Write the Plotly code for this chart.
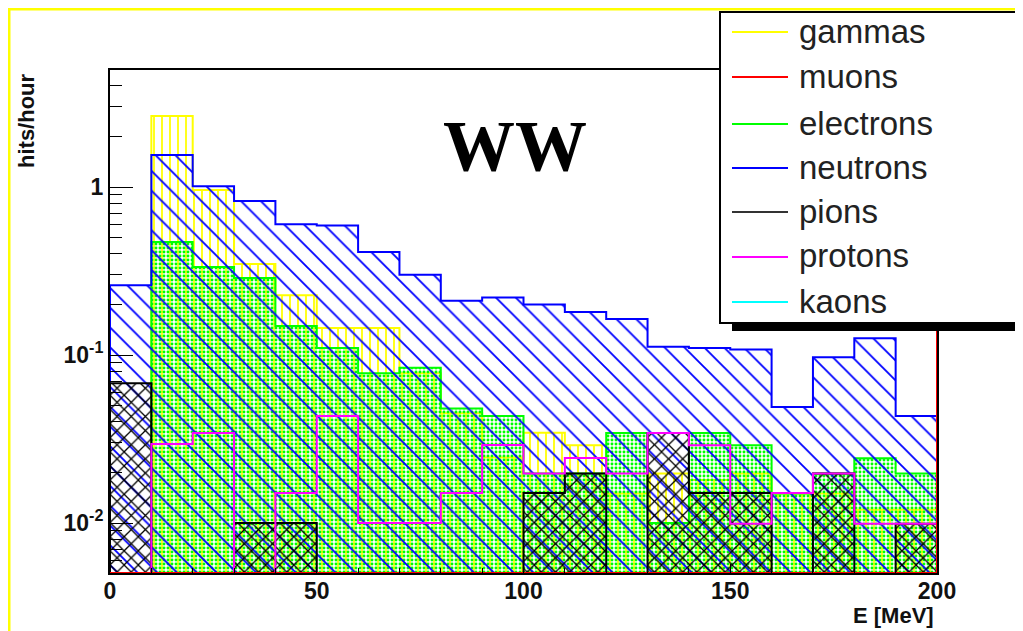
import numpy as np
import plotly.graph_objects as go

# ---------------- data ----------------
bin_edges = [0, 10, 20, 30, 40, 50, 60, 70, 80, 90, 100,
             110, 120, 130, 140, 150, 160, 170, 180, 190, 200]

gammas = [0.0, 2.65, 0.96, 0.348, 0.227, 0.145, 0.145, 0.078, 0.045, 0.0245,
          0.0345, 0.029, 0.015, 0.0197, 0.018, 0.0197, 0.015, 0.015, 0.012, 0.012]
muons = [0.0, 0.0, 0.0, 0.0, 0.0, 0.0, 0.0, 0.0, 0.0, 0.0,
         0.0, 0.0, 0.0, 0.0, 0.0, 0.0, 0.0, 0.0, 0.0, 0.0]
muons_overflow = 1.0          # bin just above 200 MeV (only its edge is visible)
electrons = [0.0, 0.471, 0.334, 0.287, 0.149, 0.110, 0.078, 0.084, 0.048, 0.0434,
             0.0197, 0.0197, 0.0343, 0.0100, 0.0343, 0.029, 0.015, 0.0197, 0.0243, 0.0197]
neutrons = [0.26, 1.55, 1.01, 0.826, 0.60, 0.59, 0.41, 0.30, 0.21, 0.22,
            0.20, 0.18, 0.164, 0.112, 0.110, 0.108, 0.049, 0.097, 0.126, 0.0434]
pions = [0.068, 0.0, 0.0, 0.0100, 0.0100, 0.0, 0.0, 0.0, 0.0, 0.0,
         0.0151, 0.0197, 0.0, 0.0343, 0.0151, 0.0151, 0.0, 0.0197, 0.0, 0.0099]
protons = [0.0, 0.0295, 0.0343, 0.0, 0.0151, 0.0434, 0.0100, 0.0100, 0.0151, 0.0291,
           0.0197, 0.0244, 0.0197, 0.0343, 0.029, 0.0099, 0.0151, 0.0197, 0.0099, 0.0099]
kaons = [0.0, 0.0, 0.0, 0.0, 0.0, 0.0, 0.0, 0.0, 0.0, 0.0,
         0.0, 0.0, 0.0, 0.0, 0.0, 0.0, 0.0, 0.0, 0.0, 0.0]

species = ["gammas", "muons", "electrons", "neutrons", "pions", "protons", "kaons"]
draw_order = ["gammas", "electrons", "neutrons", "pions", "protons", "kaons", "muons"]
colors = {"gammas": "#ffff00", "muons": "#ff0000", "electrons": "#00ff00",
          "neutrons": "#0000ff", "pions": "#000000", "protons": "#ff00ff",
          "kaons": "#00ffff"}

x_tick_vals = [0, 50, 100, 150, 200]
y_tick_vals = [0.01, 0.1, 1]
y_tick_text = ["10<sup>-2</sup>", "10<sup>-1</sup>", "1"]

# ---------------- layout geometry ----------------
OFF = 8                      # page body margin of the html page
W, H = 1023, 631             # overflowing part is simply cut by the window
ML, MT = 110 - OFF, 70 - OFF
MR = W - (937 - OFF)
MB = H - (573 - OFF)
PW, PH = W - ML - MR, H - MT - MB
Y_LOG_RANGE = [-2.2976, 0.6964]
Y_FLOOR = 10 ** Y_LOG_RANGE[0]


def px_x(px):
    """screen pixel -> paper x"""
    return (px - OFF - ML) / PW


def px_y(py):
    """screen pixel -> paper y"""
    return (H - MB - (py - OFF)) / PH


def step_path(edges, values):
    """Histogram outline (ROOT style) built from bin edges and contents."""
    e = np.asarray(edges, dtype=float)
    v = np.maximum(np.asarray(values, dtype=float), Y_FLOOR)
    xs = [e[0]]
    ys = [Y_FLOOR]
    for i in range(len(v)):
        xs += [e[i], e[i + 1]]
        ys += [v[i], v[i]]
    xs.append(e[-1])
    ys.append(Y_FLOOR)
    return xs, ys


patterns = {
    "gammas": dict(shape="|", size=8, solidity=0.22),
    "electrons": dict(shape=".", size=4, solidity=0.42),
    "neutrons": dict(shape="\\", size=14, solidity=0.13),
    "pions": dict(shape="x", size=10, solidity=0.24),
}

data_map = {"gammas": gammas, "muons": muons, "electrons": electrons,
            "neutrons": neutrons, "pions": pions, "protons": protons,
            "kaons": kaons}

fig = go.Figure()

for name in draw_order:
    vals = data_map[name]
    edges = bin_edges
    if name == "muons":
        vals = vals + [muons_overflow]
        edges = bin_edges + [bin_edges[-1] + (bin_edges[1] - bin_edges[0])]
    xs, ys = step_path(edges, vals)
    kw = {}
    if name in patterns:
        p = patterns[name]
        kw = dict(fill="toself", fillcolor="rgba(0,0,0,0)",
                  fillpattern=dict(shape=p["shape"], size=p["size"],
                                   solidity=p["solidity"],
                                   fgcolor=colors[name],
                                   bgcolor="rgba(0,0,0,0)",
                                   fillmode="replace"))
    fig.add_trace(go.Scatter(x=xs, y=ys, mode="lines", name=name,
                             line=dict(color=colors[name], width=2),
                             showlegend=False, hoverinfo="skip", **kw))

font_fam = "Liberation Sans, Arial, Helvetica, sans-serif"

fig.update_xaxes(range=[bin_edges[0], bin_edges[-1]], showgrid=False, zeroline=False,
                 showline=True, linecolor="black", linewidth=2, mirror=True,
                 ticks="inside", tickvals=x_tick_vals, ticklen=9, tickwidth=1,
                 tickcolor="black", ticklabelstandoff=-4,
                 minor=dict(tickvals=bin_edges, ticks="inside", ticklen=5,
                            tickcolor="black", tickwidth=1),
                 tickfont=dict(family=font_fam, size=23, color="#111", weight="bold"))
fig.update_yaxes(type="log", range=Y_LOG_RANGE, showgrid=False, zeroline=False,
                 showline=True, linecolor="black", linewidth=2, mirror=True,
                 ticks="inside", tickvals=y_tick_vals, ticktext=y_tick_text,
                 ticklen=23, tickwidth=1, tickcolor="black", ticklabelstandoff=0,
                 minor=dict(tickvals=[m * 10 ** k for k in (-3, -2, -1, 0)
                                      for m in range(2, 10)],
                            ticks="inside", ticklen=12, tickcolor="black", tickwidth=1),
                 tickfont=dict(family=font_fam, size=23, color="#111", weight="bold"))

shapes = []
annotations = []

# yellow slide frame
YEL = "#ffff00"
shapes.append(dict(type="line", xref="paper", yref="paper", x0=px_x(7), x1=px_x(1040),
                   y0=px_y(9), y1=px_y(9), line=dict(color=YEL, width=3), layer="above"))
shapes.append(dict(type="line", xref="paper", yref="paper", x0=px_x(9), x1=px_x(9),
                   y0=px_y(7), y1=px_y(640), line=dict(color=YEL, width=3), layer="above"))

# legend box with shadow
shapes.append(dict(type="rect", xref="paper", yref="paper", x0=px_x(732), x1=px_x(1045),
                   y0=px_y(331), y1=px_y(322), fillcolor="black", line=dict(width=0),
                   layer="above"))
shapes.append(dict(type="rect", xref="paper", yref="paper", x0=px_x(720), x1=px_x(1045),
                   y0=px_y(323), y1=px_y(12), fillcolor="white",
                   line=dict(color="black", width=2), layer="above"))
legend_rows = [32, 77, 124, 168, 212, 257, 302]
for name, ly in zip(species, legend_rows):
    shapes.append(dict(type="line", xref="paper", yref="paper", x0=px_x(732), x1=px_x(788),
                       y0=px_y(ly), y1=px_y(ly),
                       line=dict(color=colors[name] if name != "pions" else "#333333",
                                 width=2), layer="above"))
    annotations.append(dict(xref="paper", yref="paper", x=px_x(797), y=px_y(ly - 1),
                            xanchor="left", yanchor="middle", showarrow=False, text=name,
                            font=dict(family=font_fam, size=33, color="#222")))

# title and axis titles
annotations.append(dict(xref="paper", yref="paper", x=px_x(515), y=px_y(146),
                        xanchor="center", yanchor="middle", showarrow=False,
                        text="<b>WW</b>",
                        font=dict(family="Liberation Serif, Times New Roman, serif",
                                  size=72, color="black")))
annotations.append(dict(xref="paper", yref="paper", x=px_x(27), y=px_y(121),
                        xanchor="center", yanchor="middle", showarrow=False,
                        textangle=-90, text="<b>hits/hour</b>",
                        font=dict(family=font_fam, size=22, color="#111")))
annotations.append(dict(xref="paper", yref="paper", x=px_x(936), y=px_y(615),
                        xanchor="right", yanchor="middle", showarrow=False,
                        text="<b>E [MeV]</b>",
                        font=dict(family=font_fam, size=22, color="#111")))

fig.update_layout(width=W, height=H, margin=dict(l=ML, r=MR, t=MT, b=MB, pad=0),
                  paper_bgcolor="white", plot_bgcolor="white",
                  shapes=shapes, annotations=annotations, showlegend=False)

fig.write_html("out.html")
